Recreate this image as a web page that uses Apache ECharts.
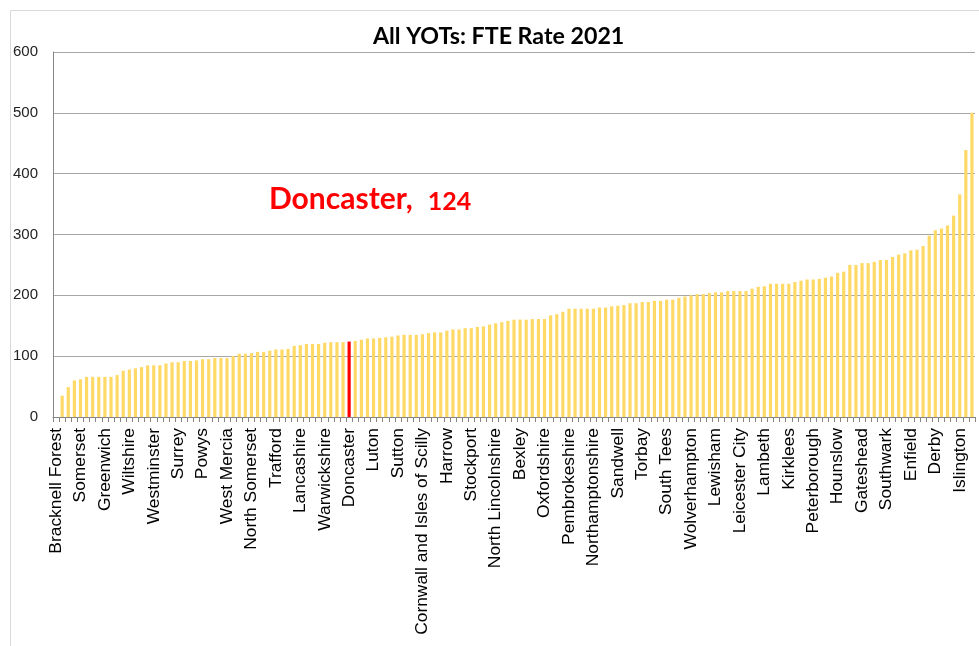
<!DOCTYPE html>
<html>
<head>
<meta charset="utf-8">
<script src="https://cdn.jsdelivr.net/npm/echarts@6.0.0/dist/echarts.min.js"></script>
<style>
html,body{margin:0;padding:0;background:#fff;}
#chart{width:979px;height:646px;}
</style>
</head>
<body>
<div id="chart"></div>
<script>
// Tick labels shown on the axis (every 4th YOT)
const tickLabels = [
  'Bracknell Forest','Somerset','Greenwich','Wiltshire','Westminster','Surrey','Powys','West Mercia',
  'North Somerset','Trafford','Lancashire','Warwickshire','Doncaster','Luton','Sutton',
  'Cornwall and Isles of Scilly','Harrow','Stockport','North Lincolnshire','Bexley','Oxfordshire',
  'Pembrokeshire','Northamptonshire','Sandwell','Torbay','South Tees','Wolverhampton','Lewisham',
  'Leicester City','Lambeth','Kirklees','Peterborough','Hounslow','Gateshead','Southwark','Enfield',
  'Derby','Islington'
];
// FTE rate per YOT, sorted ascending
const fteRate = [
  0,35,49,60,62,66,66,66,66,66,
  69,76,78,80,82,85,85,85,88,90,
  90,92,92,93,95,95,97,97,97,100,
  104,104,105,107,107,109,111,111,112,117,
  118,120,120,120,122,123,123,123,124,125,
  127,129,129,130,131,132,134,135,135,135,
  136,138,139,139,142,144,144,146,146,148,
  149,152,154,156,158,160,160,160,161,161,
  161,167,169,173,178,178,178,178,178,180,
  180,182,183,184,187,187,189,189,191,191,
  193,193,196,198,200,202,202,204,205,205,
  207,207,207,207,211,214,215,219,219,219,
  219,222,224,226,226,227,229,231,237,239,
  250,250,253,253,255,258,258,263,267,269,
  274,275,281,298,307,310,315,331,366,439,
  500
];
const yTicks = [0,100,200,300,400,500,600];
const labelEvery = 4;
const highlightName = 'Doncaster';

const categories = fteRate.map((v,i) => (i % labelEvery === 0 ? (tickLabels[i/labelEvery] || '') : ''));
const hiIdx = categories.indexOf(highlightName);

const chart = echarts.init(document.getElementById('chart'));
chart.setOption({
  animation:false,
  backgroundColor:'#ffffff',
  title:{
    text:'All YOTs: FTE Rate 2021',
    left:373, top:25,
    padding:0,
    textStyle:{fontFamily:'Lato', fontWeight:'bold', fontSize:23.2, color:'#000'}
  },
  grid:{left:53, right:4, top:52, bottom:229},
  xAxis:{
    type:'category',
    data:categories,
    axisLine:{lineStyle:{color:'#868686', width:1}},
    axisTick:{show:true, interval:0, length:5, lineStyle:{color:'#868686'}},
    axisLabel:{interval:labelEvery-1, rotate:90, margin:11, padding:[7,0,0,0], fontFamily:'Liberation Sans', fontSize:17.4, color:'#000'},
    splitLine:{show:false}
  },
  yAxis:{
    type:'value',
    min:yTicks[0], max:yTicks[yTicks.length-1], interval:100,
    axisLine:{show:true, lineStyle:{color:'#868686'}},
    axisTick:{show:false},
    axisLabel:{margin:15, fontFamily:'Liberation Sans', fontSize:15, color:'#222'},
    splitLine:{lineStyle:{color:'#a6a6a6', width:1}}
  },
  series:[{
    type:'bar',
    data:fteRate.map((v,i)=> i===hiIdx ? {value:v, itemStyle:{color:'#ff0000'}} : v),
    barWidth:'52%',
    itemStyle:{color:'#ffd966'}
  }],
  graphic:[
    {type:'rect', left:8, top:8, shape:{width:1000, height:700}, style:{fill:'none', stroke:'#d9d9d9', lineWidth:1}, silent:true, z:-1},
    {type:'text', left:269, top:184,
     style:{
       text:'{a|' + highlightName + ',}{b|' + fteRate[hiIdx] + '}',
       rich:{
         a:{fontFamily:'Lato', fontWeight:'bold', fontSize:30, fill:'#ff0000', verticalAlign:'bottom'},
         b:{fontFamily:'Lato', fontWeight:'bold', fontSize:25, fill:'#ff0000', verticalAlign:'bottom', padding:[0,0,0,15]}
       }
     }}
  ]
});
</script>
</body>
</html>
